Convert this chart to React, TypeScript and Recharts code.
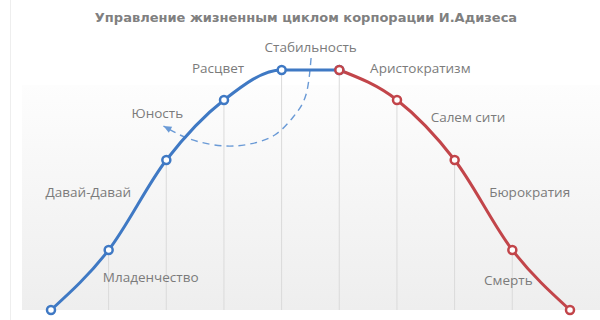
import { ComposedChart, Line, Bar, XAxis, YAxis, LabelList } from 'recharts';

// Adizes corporate lifecycle: 10 points, growth (blue) up to index 5, decline (red) after
const stageX = [0, 1, 2, 3, 4, 5, 6, 7, 8, 9];
const lifeValues = [0, 60, 150, 210, 240, 240, 210, 150, 60, 0];
const peakIndex = 5;

const stageNames = [
  'Младенчество',
  'Давай-Давай',
  'Юность',
  'Расцвет',
  'Стабильность',
  'Аристократизм',
  'Салем сити',
  'Бюрократия',
  'Смерть',
];
// which point each stage name sits next to
const stageAnchors = [1, 2, 2, 3, 4, 5, 6, 7, 8];

// dashed "fall back to youth" arc
const arcX = [4.51, 4.42, 4.2, 3.88, 3.45, 3.02, 2.58, 2.24, 1.95];
const arcY = [252, 215, 193, 175, 166, 164, 168, 175, 184];

const title = 'Управление жизненным циклом корпорации И.Адизеса';

const BLUE = '#3f79c4';
const RED = '#c2454a';
const LABEL_COLOR = '#7b7b7b';

// label offsets from their anchor point (px), centre of text
const labelOffsets = [
  { dx: 42, dy: 27 },
  { dx: -78, dy: 32 },
  { dx: -9, dy: -47 },
  { dx: -6, dy: -32 },
  { dx: 29, dy: -23 },
  { dx: 81, dy: -2 },
  { dx: 71, dy: 17 },
  { dx: 75, dy: 32 },
  { dx: -4, dy: 30 },
];

const rows = stageX.map((x, i) => ({ x, v: lifeValues[i] }));
const growthRows = rows.slice(0, peakIndex + 1);
const declineRows = rows.slice(peakIndex);
const arcRows = arcX.map((x, i) => ({ x, a: arcY[i] }));

const ringDot = (color: string) => ({
  r: 4,
  fill: '#fff',
  stroke: color,
  strokeWidth: 2.5,
});

function ArrowHead(props: any) {
  const { cx, cy, index } = props;
  if (index !== arcRows.length - 1 || cx == null) return <g key={`ah-${index}`} />;
  return (
    <path
      key={`ah-${index}`}
      d="M0,0 L8,-3.5 L8,3.5 Z"
      fill="#6a9ad6"
      transform={`translate(${cx},${cy}) rotate(28)`}
    />
  );
}

function StageLabels(props: any) {
  const { x, y, index } = props;
  const out: any[] = [];
  stageAnchors.forEach((a, k) => {
    if (a !== index) return;
    out.push(
      <text
        key={k}
        x={x + labelOffsets[k].dx}
        y={y + labelOffsets[k].dy}
        textAnchor="middle"
        dominantBaseline="central"
        fill={LABEL_COLOR}
        fontSize={13.5}
        fontFamily="'Open Sans', sans-serif"
      >
        {stageNames[k]}
      </text>
    );
  });
  return <g>{out}</g>;
}

export default function App() {
  return (
    <div style={{ position: 'relative', width: 600, height: 320, background: '#fff' }}>
      <style>{'body{margin:0}'}</style>
      <div
        style={{
          position: 'absolute',
          left: 10,
          top: 0,
          width: 1,
          height: 320,
          background: '#eeeeee',
        }}
      />
      <div
        style={{
          position: 'absolute',
          left: 22,
          top: 85,
          width: 578,
          height: 225,
          background: 'linear-gradient(#fdfdfd, #f7f7f7 40%, #eeeeee)',
        }}
      />
      <div
        style={{
          position: 'absolute',
          left: 6,
          top: 10,
          width: 600,
          textAlign: 'center',
          fontFamily: "'DejaVu Sans', sans-serif",
          fontWeight: 'bold',
          fontSize: 13,
          color: '#808080',
        }}
      >
        {title}
      </div>
      <div style={{ position: 'absolute', left: 0, top: 0 }}>
        <ComposedChart
          width={600}
          height={320}
          data={rows}
          margin={{ top: 10, right: 30, bottom: 10, left: 51 }}
        >
          <XAxis dataKey="x" type="number" domain={[0, 9]} hide />
          <YAxis type="number" domain={[0, 300]} hide />
          <Bar dataKey="v" barSize={1} fill="#dadada" isAnimationActive={false} />
          <Line
            data={arcRows}
            dataKey="a"
            type="natural"
            stroke="#6a9ad6"
            strokeWidth={1.4}
            strokeDasharray="7 5"
            dot={ArrowHead}
            activeDot={false}
            isAnimationActive={false}
          />
          <Line
            data={growthRows}
            dataKey="v"
            type="monotone"
            stroke={BLUE}
            strokeWidth={3}
            dot={ringDot(BLUE)}
            activeDot={false}
            isAnimationActive={false}
          />
          <Line
            data={declineRows}
            dataKey="v"
            type="monotone"
            stroke={RED}
            strokeWidth={3}
            dot={ringDot(RED)}
            activeDot={false}
            isAnimationActive={false}
          />
          <Line
            dataKey="v"
            stroke="none"
            dot={false}
            activeDot={false}
            isAnimationActive={false}
          >
            <LabelList dataKey="v" content={StageLabels} />
          </Line>
        </ComposedChart>
      </div>
    </div>
  );
}
